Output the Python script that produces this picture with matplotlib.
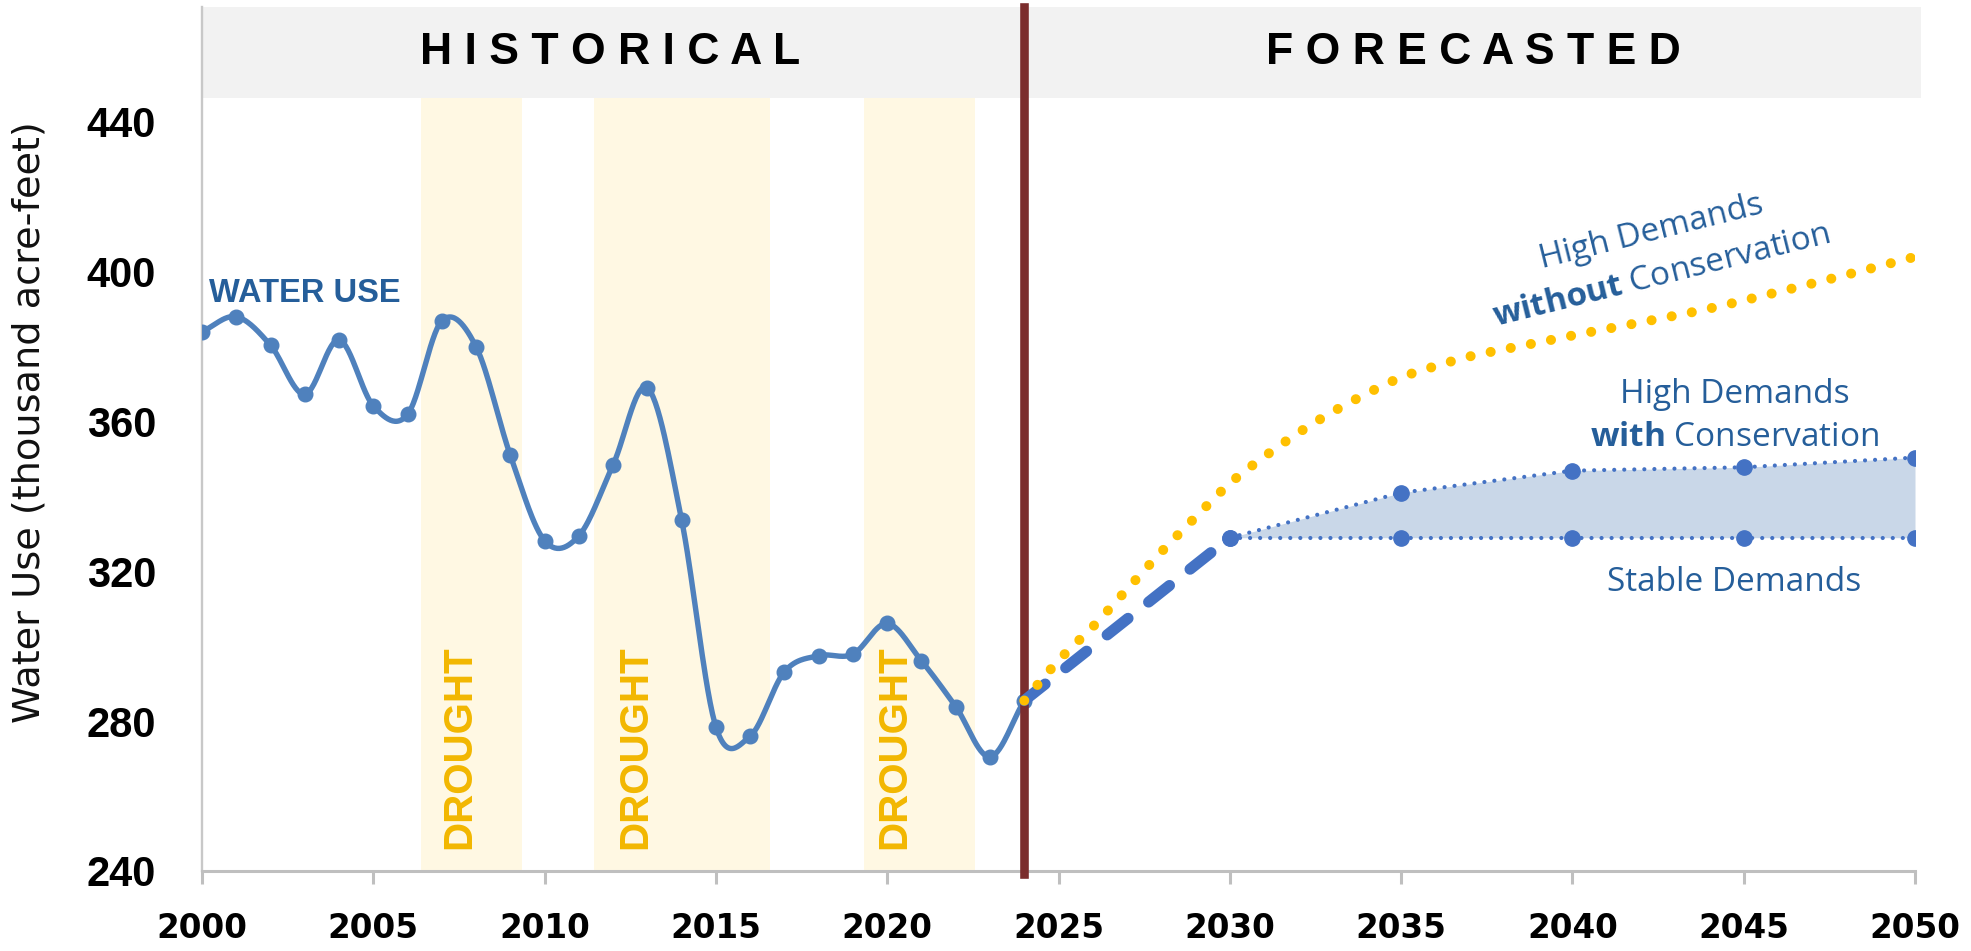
import numpy as np
import matplotlib
matplotlib.use("Agg")
import matplotlib.pyplot as plt

plt.rcParams['font.family'] = ['Liberation Sans', 'DejaVu Sans']
plt.rcParams['mathtext.fontset'] = 'custom'
plt.rcParams['mathtext.rm'] = 'Open Sans'
plt.rcParams['mathtext.bf'] = 'Open Sans:bold'

# ---------------- data ----------------
hist_years = list(range(2000, 2025))
hist_use = [384.0, 388.0, 380.4, 367.3, 381.8, 364.2, 361.9, 386.9, 380.0, 351.0,
            328.2, 329.5, 348.5, 369.0, 333.7, 278.5, 276.0, 293.2, 297.5, 297.9,
            306.1, 296.1, 283.9, 270.5, 285.5]

no_cons_years = [2024, 2025, 2026, 2027, 2028, 2029, 2030, 2031, 2032, 2033, 2034,
                 2035, 2036, 2037, 2038, 2039, 2040, 2042, 2044, 2046, 2048, 2050]
no_cons_use = [285.5, 296.2, 305.2, 315.2, 325.2, 334.5, 343.5, 350.6, 357.0, 362.6,
               367.5, 371.8, 374.8, 377.4, 379.3, 381.1, 383.0, 386.5, 390.2, 394.6,
               399.2, 404.0]

ramp_years = [2024, 2030]
ramp_use = [285.5, 329.0]

fc_years = [2030, 2035, 2040, 2045, 2050]
with_cons_use = [329.0, 341.0, 346.9, 347.8, 350.4]
stable_use = [329.0, 329.0, 329.0, 329.0, 329.0]

drought_start = [2006.4, 2011.45, 2019.33]
drought_end = [2009.35, 2016.58, 2022.56]
drought_label_x = [2007.5, 2012.65, 2020.2]

forecast_start = 2024
x_ticks = list(range(2000, 2051, 5))
y_ticks = [240, 280, 320, 360, 400, 440]

# ---------------- helpers ----------------
def smooth(xs, ys, n=30):
    xs = np.asarray(xs, float)
    ys = np.asarray(ys, float)
    m = np.empty_like(ys)
    m[0] = (ys[1] - ys[0]) / (xs[1] - xs[0])
    m[-1] = (ys[-1] - ys[-2]) / (xs[-1] - xs[-2])
    for i in range(1, len(xs) - 1):
        m[i] = (ys[i + 1] - ys[i - 1]) / (xs[i + 1] - xs[i - 1])
    ox, oy = [], []
    for i in range(len(xs) - 1):
        h = xs[i + 1] - xs[i]
        t = np.linspace(0, 1, n, endpoint=(i == len(xs) - 2))
        h00 = 2 * t**3 - 3 * t**2 + 1
        h10 = t**3 - 2 * t**2 + t
        h01 = -2 * t**3 + 3 * t**2
        h11 = t**3 - t**2
        ox.append(xs[i] + t * h)
        oy.append(h00 * ys[i] + h10 * h * m[i] + h01 * ys[i + 1] + h11 * h * m[i + 1])
    return np.concatenate(ox), np.concatenate(oy)

# ---------------- figure ----------------
W, H = 1971, 951
fig = plt.figure(figsize=(W / 100, H / 100), dpi=100)
ax_left, ax_right, ax_top, ax_bot = 202, 1915, 7, 871
ax = fig.add_axes([ax_left / W, 1 - ax_bot / H, (ax_right - ax_left) / W, (ax_bot - ax_top) / H])

px_per_unit = (871 - 122) / 200.0
y_lo = 240
y_hi = y_lo + (ax_bot - ax_top) / px_per_unit
header_lo = y_lo + (ax_bot - 98) / px_per_unit
ax.set_xlim(2000, 2050)
ax.set_ylim(y_lo, y_hi)

# header band
hdr = ax.axhspan(header_lo, y_hi, xmin=0, xmax=1.0035, color='#F2F2F2', lw=0, zorder=0.5)
hdr.set_clip_on(False)
ax.text((2000 + forecast_start) / 2 - 0.1, (header_lo + y_hi) / 2, ' '.join('HISTORICAL'),
        ha='center', va='center', fontsize=32, fontweight='bold', color='black', zorder=3)
ax.text((forecast_start + 2050.2) / 2, (header_lo + y_hi) / 2, ' '.join('FORECASTED'),
        ha='center', va='center', fontsize=32, fontweight='bold', color='black', zorder=3)

# drought bands
frac = (header_lo - y_lo) / (y_hi - y_lo)
for s, e, lx in zip(drought_start, drought_end, drought_label_x):
    ax.axvspan(s, e, ymin=0, ymax=frac, color='#FFF8E3', lw=0, zorder=0.6)
    ax.text(lx, 246, 'DROUGHT', rotation=90, ha='center', va='bottom',
            fontsize=29, fontweight='bold', color='#F2B700', zorder=2)

# historical line
hx, hy = smooth(hist_years, hist_use)
ax.plot(hx, hy, color='#4F81BD', lw=3.9, zorder=4, solid_capstyle='round')
ax.plot(hist_years, hist_use, ls='none', marker='o', ms=10.5, color='#4F81BD', zorder=4)

# forecast divider
ax.axvline(forecast_start, ymin=-0.003, ymax=1, color='#7B2D2D', lw=6.2, zorder=5, clip_on=False)

# fill between forecasts
ax.fill_between(fc_years, stable_use, with_cons_use, color='#C9D7E8', lw=0, zorder=3)

# ramp dashed
ax.plot(ramp_years, ramp_use, color='#4472C4', lw=8, ls=(0, (2.4, 2.36)),
        dash_capstyle='round', zorder=6)

# dotted forecast lines
ax.plot(fc_years, with_cons_use, color='#4472C4', lw=3.0, ls=(0, (0.01, 2.4)),
        dash_capstyle='round', marker='o', ms=11, zorder=6)
ax.plot(fc_years, stable_use, color='#4472C4', lw=3.0, ls=(0, (0.01, 2.4)),
        dash_capstyle='round', marker='o', ms=11, zorder=6)

# without conservation (yellow dots)
nx, ny = smooth(no_cons_years, no_cons_use)
ax.plot(nx, ny, color='#FFC000', lw=7.2, ls=(0, (0.01, 2.04)),
        dash_capstyle='round', zorder=7)

# annotations
blue_txt = '#255E9A'
ax.text(2000.2, 392, 'WATER USE', ha='left', va='baseline', fontsize=23.5,
        fontweight='bold', color=blue_txt, zorder=8)
ax.text(2042.38, 408.5, 'High Demands', rotation=14, rotation_mode='anchor',
        ha='center', va='baseline', fontsize=24, family='Open Sans', color=blue_txt, zorder=8)
ax.text(2042.67, 396.7, r'$\mathbf{without}$ Conservation', rotation=14, rotation_mode='anchor',
        ha='center', va='baseline', fontsize=24, family='Open Sans', color=blue_txt, zorder=8)
ax.text(2044.73, 365.0, 'High Demands', ha='center', va='baseline', fontsize=24,
        family='Open Sans', color=blue_txt, zorder=8)
ax.text(2044.73, 353.5, r'$\mathbf{with}$ Conservation', ha='center', va='baseline', fontsize=24,
        family='Open Sans', color=blue_txt, zorder=8)
ax.text(2044.72, 314.8, 'Stable Demands', ha='center', va='baseline', fontsize=24,
        family='Open Sans', color=blue_txt, zorder=8)

# axes styling
for sp in ['top', 'right']:
    ax.spines[sp].set_visible(False)
ax.spines['left'].set_color('#C8C8C8')
ax.spines['left'].set_linewidth(1.7)
ax.spines['bottom'].set_color('#BFBFBF')
ax.spines['bottom'].set_linewidth(2.2)
ax.spines['bottom'].set_zorder(4.5)

ax.set_xticks(x_ticks)
ax.set_xticklabels([str(t) for t in x_ticks])
ax.set_yticks(y_ticks)
ax.set_yticklabels([str(t) for t in y_ticks])
ax.tick_params(axis='x', length=9.4, width=2.2, color='#BFBFBF', pad=20, labelsize=23.5)
ax.tick_params(axis='y', length=0, pad=33, labelsize=30)
for lbl in ax.get_xticklabels():
    lbl.set_fontweight('bold')
    lbl.set_fontfamily('DejaVu Sans')
for lbl in ax.get_yticklabels():
    lbl.set_fontweight('bold')

fig.text(30 / W, 1 - 422 / H, 'Water Use (thousand acre-feet)', rotation=90,
         ha='center', va='center', fontsize=27.5, family='DejaVu Sans', color='#111111')

fig.savefig('out.png', dpi=100)
